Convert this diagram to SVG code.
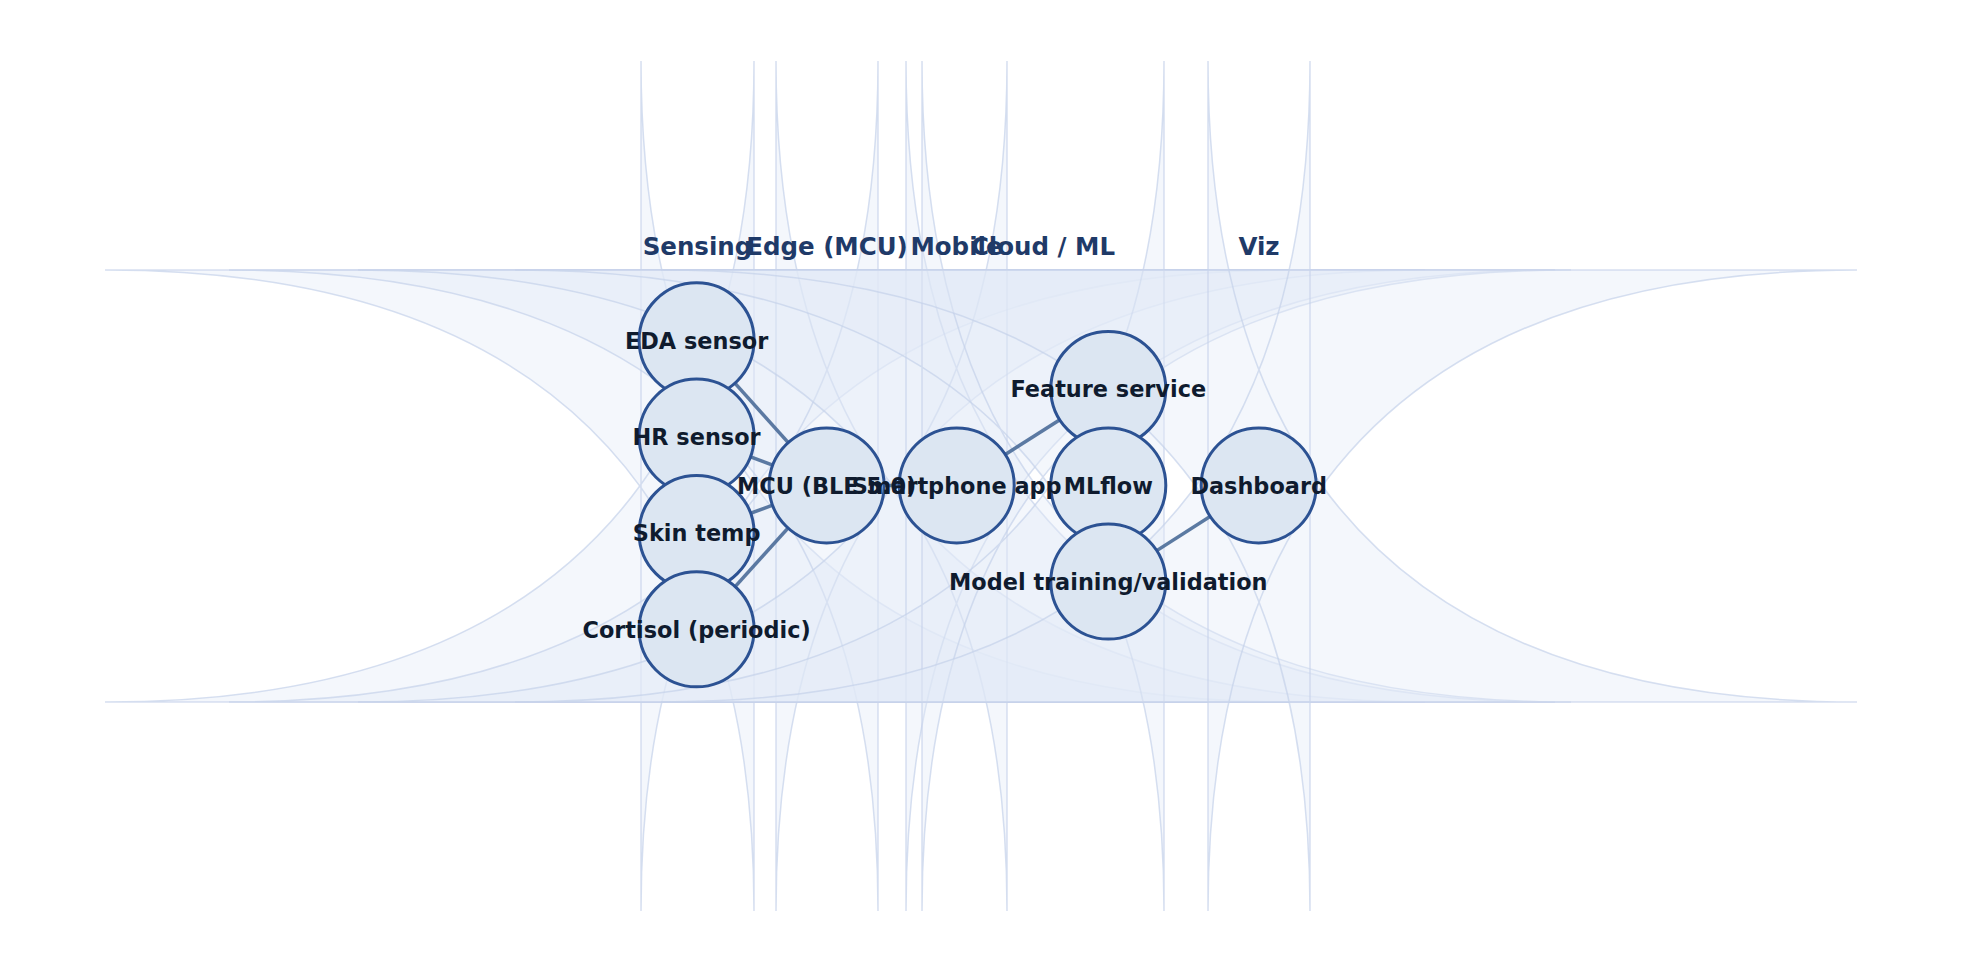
<svg xmlns="http://www.w3.org/2000/svg" width="1961" height="972" viewBox="0 0 1961 972">
<style>
.lane{fill:#e4ebf7;fill-opacity:0.4;stroke:#c4d2ea;stroke-opacity:0.7;stroke-width:1.5}
.lanelabel{font-family:"DejaVu Sans",sans-serif;font-weight:bold;font-size:24.5px;fill:#1f3a68;text-anchor:middle}
.node circle{fill:#dce6f2;stroke:#2c5293;stroke-width:3}
.label{font-family:"DejaVu Sans",sans-serif;font-weight:bold;font-size:22.4px;fill:#0f1b2e;text-anchor:middle}
.edge{stroke:#4a6b98;stroke-opacity:0.9;stroke-width:3.5;fill:none}
</style>
<rect width="1961" height="972" fill="#ffffff"/>
<g id="lanes">
<path id="lane-sensing" class="lane" d="M1290,270 H105 Q754,270 754,911 V61 Q754,702 105,702 H1290 Q641,702 641,61 V911 Q641,270 1290,270 Z"/>
<path id="lane-edge" class="lane" d="M1425,270 H229 Q878,270 878,911 V61 Q878,702 229,702 H1425 Q776,702 776,61 V911 Q776,270 1425,270 Z"/>
<path id="lane-mobile" class="lane" d="M1555,270 H358 Q1007,270 1007,911 V61 Q1007,702 358,702 H1555 Q906,702 906,61 V911 Q906,270 1555,270 Z"/>
<path id="lane-cloud" class="lane" d="M1571,270 H515 Q1164,270 1164,911 V61 Q1164,702 515,702 H1571 Q922,702 922,61 V911 Q922,270 1571,270 Z"/>
<path id="lane-viz" class="lane" d="M1857,270 H661 Q1310,270 1310,911 V61 Q1310,702 661,702 H1857 Q1208,702 1208,61 V911 Q1208,270 1857,270 Z"/>
</g>
<g id="lane-labels">
<text class="lanelabel" x="697.5" y="255">Sensing</text>
<text class="lanelabel" x="827" y="255">Edge (MCU)</text>
<text class="lanelabel" x="956.5" y="255">Mobile</text>
<text class="lanelabel" x="1043" y="255">Cloud / ML</text>
<text class="lanelabel" x="1259" y="255">Viz</text>
</g>
<g id="connectors">
<line class="edge" x1="696.6" y1="340.3" x2="826.6" y2="485.4"/>
<line class="edge" x1="696.6" y1="436.6" x2="826.6" y2="485.4"/>
<line class="edge" x1="696.6" y1="533" x2="826.6" y2="485.4"/>
<line class="edge" x1="696.6" y1="629.3" x2="826.6" y2="485.4"/>
<line class="edge" x1="826.6" y1="485.4" x2="956.7" y2="485.4"/>
<line class="edge" x1="956.7" y1="485.4" x2="1108.3" y2="389"/>
<line class="edge" x1="1108.3" y1="581.6" x2="1258.7" y2="485.4"/>
</g>
<g id="node-eda" class="node"><circle cx="696.6" cy="340.3" r="57.5"/></g>
<g id="node-hr" class="node"><circle cx="696.6" cy="436.6" r="57.5"/></g>
<g id="node-skin" class="node"><circle cx="696.6" cy="533" r="57.5"/></g>
<g id="node-cortisol" class="node"><circle cx="696.6" cy="629.3" r="57.5"/></g>
<g id="node-mcu" class="node"><circle cx="826.6" cy="485.4" r="57.5"/></g>
<g id="node-phone" class="node"><circle cx="956.7" cy="485.4" r="57.5"/></g>
<g id="node-feature" class="node"><circle cx="1108.3" cy="389" r="57.5"/></g>
<g id="node-mlflow" class="node"><circle cx="1108.3" cy="485.4" r="57.5"/></g>
<g id="node-model" class="node"><circle cx="1108.3" cy="581.6" r="57.5"/></g>
<g id="node-dashboard" class="node"><circle cx="1258.7" cy="485.4" r="57.5"/></g>
<g id="node-labels">
<text id="label-eda" class="label" x="696.6" y="348.5">EDA sensor</text>
<text id="label-hr" class="label" x="696.6" y="444.8">HR sensor</text>
<text id="label-skin" class="label" x="696.6" y="541.2">Skin temp</text>
<text id="label-cortisol" class="label" x="696.6" y="637.5">Cortisol (periodic)</text>
<text id="label-mcu" class="label" x="826.6" y="493.6">MCU (BLE 5.0)</text>
<text id="label-phone" class="label" x="956.7" y="493.6">Smartphone app</text>
<text id="label-feature" class="label" x="1108.3" y="397.2">Feature service</text>
<text id="label-mlflow" class="label" x="1108.3" y="493.6">MLflow</text>
<text id="label-model" class="label" x="1108.3" y="589.8">Model training/validation</text>
<text id="label-dashboard" class="label" x="1258.7" y="493.6">Dashboard</text>
</g>
</svg>
